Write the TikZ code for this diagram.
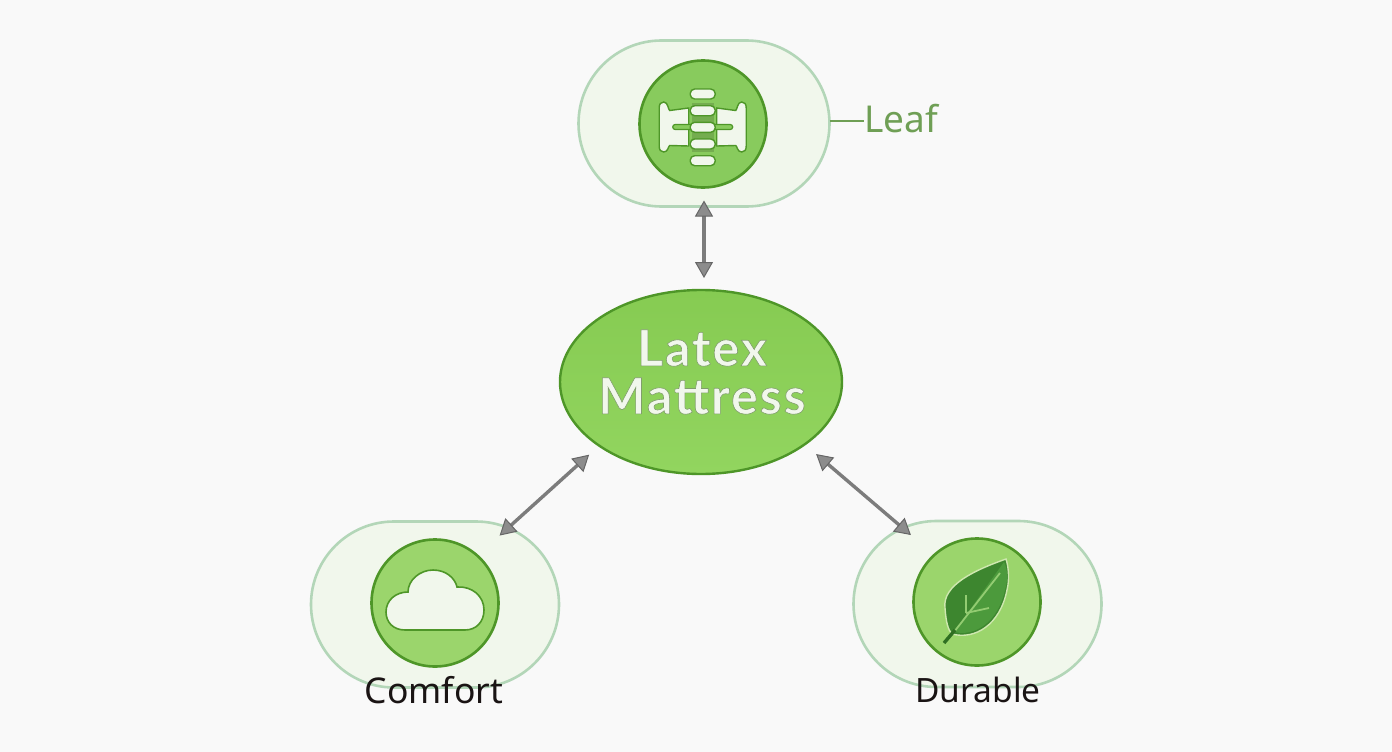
\documentclass[tikz,border=0pt]{standalone}
\usepackage{fontspec}
\setmainfont{Noto Sans}
\newfontfamily\corefont[LetterSpace=4]{Lato}
\usetikzlibrary{shapes.geometric,arrows.meta}
\definecolor{bgc}{HTML}{F9F9F9}
\definecolor{pillfill}{HTML}{F1F7EC}
\definecolor{pillline}{HTML}{B3D6B8}
\definecolor{ringdark}{HTML}{4E9628}
\definecolor{discA}{HTML}{88CB5D}
\definecolor{discB}{HTML}{9BD56C}
\definecolor{coreA}{HTML}{86CB52}
\definecolor{coreB}{HTML}{92D55F}
\definecolor{arrowc}{HTML}{7C7C7C}
\definecolor{arrowh}{HTML}{8C8C8C}
\definecolor{arrowe}{HTML}{666666}
\definecolor{leafc}{HTML}{6F9F55}
\definecolor{leafdark}{HTML}{3D862F}
\definecolor{leafmid}{HTML}{4C9A3C}
\definecolor{leafpale}{HTML}{CFE8B0}
\definecolor{veinc}{HTML}{93CC72}
\definecolor{stemc}{HTML}{2F6F22}
\definecolor{inkc}{HTML}{1A1414}
\tikzset{
  pill/.style={rectangle,rounded corners=83pt,draw=pillline,fill=pillfill,line width=2.6pt,
    minimum width=248pt,minimum height=166pt,inner sep=0pt,outer sep=0pt},
  disc/.style={circle,draw=ringdark,line width=2.6pt,minimum size=127pt,inner sep=0pt,outer sep=0pt},
  corenode/.style={ellipse,draw=ringdark,line width=2.4pt,top color=coreA,bottom color=coreB,
    minimum width=282pt,minimum height=184pt,inner sep=0pt,outer sep=0pt},
  twoway/.style={draw=arrowc,line width=3.4pt,
    {Triangle[length=16pt,width=18pt,fill=arrowh,color=arrowe,line width=1pt]}-{Triangle[length=16pt,width=18pt,fill=arrowh,color=arrowe,line width=1pt]}},
  iconpart/.style={fill=pillfill,draw=ringdark,line width=1.4pt},
  caption/.style={text=inkc,anchor=base,inner sep=0pt},
}
\begin{document}
\begin{tikzpicture}[x=1pt,y=-1pt]
\path[fill=bgc] (0,0) rectangle (1392,752);
\useasboundingbox (0,0) rectangle (1392,752);

% pills and discs
\node[pill,minimum width=251pt] (pillTop) at (704,123.5) {};
\node[pill] (pillL) at (435,604.5) {};
\node[pill] (pillR) at (977.5,604) {};
\node[disc,fill=discA] (discTop) at (703,124) {};
\node[disc,fill=discB] (discL) at (435,603) {};
\node[disc,fill=discB] (discR) at (977,602) {};

% centre
\node[corenode] (core) at (701,382) {};
\node[font=\corefont\bfseries\fontsize{50}{48}\selectfont,text=pillfill,align=center,inner sep=0pt] (coreLabel) at (702,372)
  {\special{pdf:code 2 Tr 0.6 w 0.50 0.62 0.42 RG}Latex\\\special{pdf:code 2 Tr 0.6 w 0.50 0.62 0.42 RG}Mattress\special{pdf:code 0 Tr}};

% connectors
\draw[twoway,shorten <=-6pt,shorten >=12pt] (pillTop.south) -- (pillTop.south |- core.north);
\draw[twoway,shorten <=13.5pt,shorten >=-21pt] (core.212.4) -- (pillL.46.6);
\draw[twoway,shorten <=15pt,shorten >=-21.6pt] (core.329) -- (pillR.135);

% leaf label
\node[font=\fontsize{37}{37}\selectfont,text=leafc,anchor=base west,inner sep=0pt] (leafLabel) at (864,132) {Leaf};
\draw[leafc,line width=2.2pt] (pillTop.1.6) -- (pillTop.1.6 -| leafLabel.west);

% captions
\node[caption,font=\fontsize{35.5}{36}\selectfont] (comfort) at (434,703) {Comfort};
\node[caption,font=\fontsize{33.5}{36}\selectfont] (durable) at (978,702) {Durable};

% spine icon
\begin{scope}[shift={(702.7,0)}]
  \fill[discA!85!black] (-11,103) rectangle (11,152);
  \foreach \s in {1,-1}{
    \begin{scope}[xscale=\s]
      \path[iconpart] (14,108) -- (33,110.5) .. controls (34.5,110) and (34.5,102) .. (39,102)
        .. controls (42,102) and (43.5,104) .. (43.5,108) -- (43.5,146)
        .. controls (43.5,150) and (42,152) .. (39,152) .. controls (34.5,152) and (34.5,146) .. (33,145.5)
        -- (14,146) -- cycle;
    \end{scope}
  }
  \path[fill=discA,draw=ringdark,line width=1.2pt,rounded corners=2.5pt] (-30,124.5) rectangle (30,129.5);
  \foreach \yy in {94,110.7,127.3,144,160.7}{
    \path[iconpart,rounded corners=4.5pt] (-12.5,\yy-5) rectangle (12.5,\yy+5);
  }
\end{scope}

% cloud icon
\path[iconpart,line width=1.6pt] (405,630) .. controls (393,630) and (386,622) .. (386,612)
  .. controls (386,600) and (396,592) .. (408,592)
  .. controls (408,580) and (420,570) .. (433,570)
  .. controls (446,570) and (455,578) .. (457,587)
  .. controls (472,586) and (484,596) .. (484,610)
  .. controls (484,622) and (476,630) .. (465,630) -- cycle;

% leaf icon
\path[fill=leafdark,draw=leafpale,line width=1.4pt] (1006,559)
  .. controls (975,570) and (942,585) .. (945,608)
  .. controls (946,622) and (948,630) .. (952,634)
  .. controls (975,640) and (1000,625) .. (1007,590)
  .. controls (1010,578) and (1008,565) .. (1006,559) -- cycle;
\path[fill=leafmid] (1004,562) .. controls (1008,570) and (1008,580) .. (1005,590)
  .. controls (998,622) and (975,637) .. (954,632) -- cycle;
\draw[veinc,line width=1.8pt] (1000,573) -- (954,632);
\draw[veinc,line width=1.8pt] (966,613) -- (989,608);
\draw[veinc,line width=1.8pt] (966,613) -- (966,595);
\draw[stemc,line width=3.4pt] (955,630) -- (944,643);
\end{tikzpicture}
\end{document}
